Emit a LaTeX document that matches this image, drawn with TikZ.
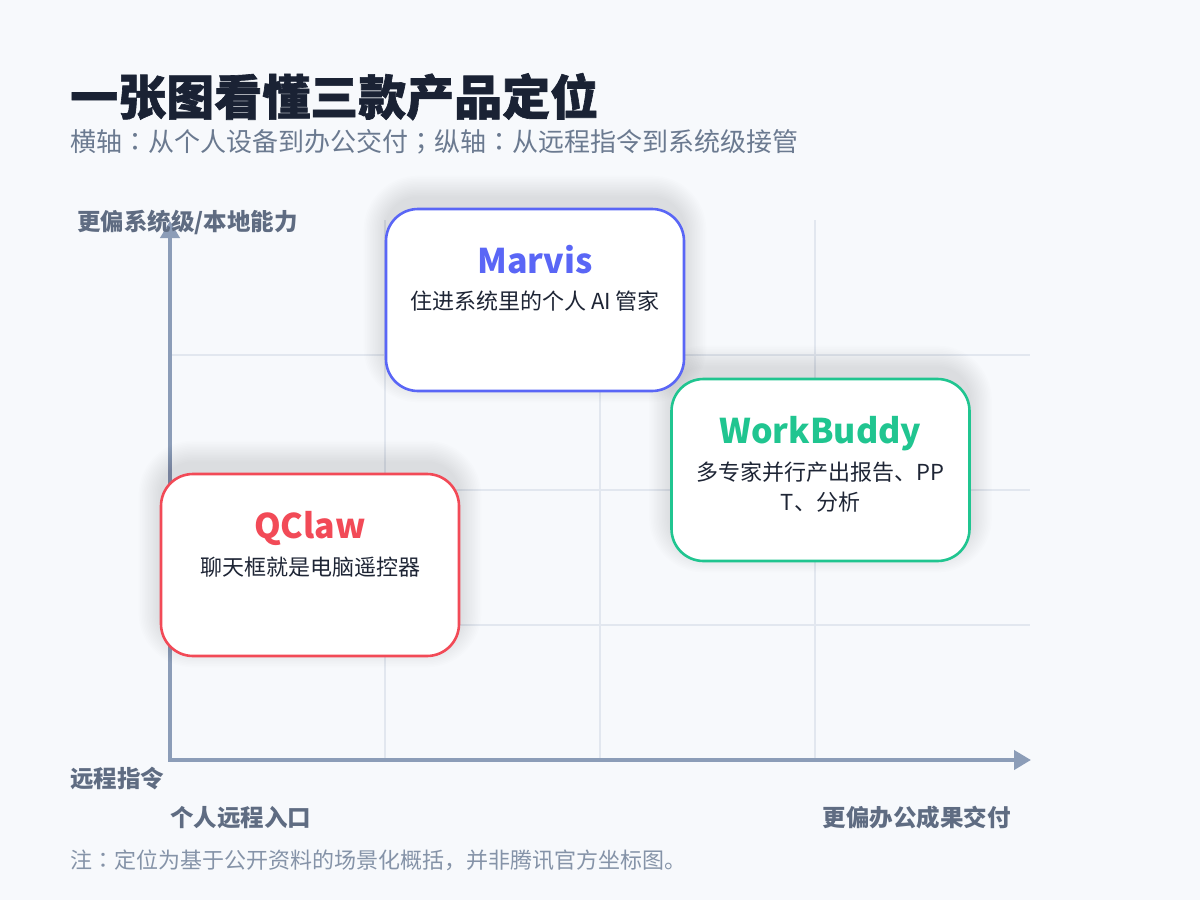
\documentclass[tikz,border=0pt]{standalone}
\usepackage{fontspec}
\setmainfont{Noto Sans CJK SC}
\newfontfamily\heavyfont[BoldFeatures={FakeBold=1.3}]{Noto Sans CJK SC}
\newfontfamily\jpfont{Noto Sans CJK JP}
\newcommand{\cpunct}[1]{{\jpfont #1}}
\usetikzlibrary{arrows.meta,calc}
\definecolor{bg}{HTML}{F7F9FC}
\definecolor{gridc}{HTML}{E2E7EF}
\definecolor{axisc}{HTML}{8C9DB8}
\definecolor{titlec}{HTML}{1A2234}
\definecolor{subc}{HTML}{6B7A90}
\definecolor{labc}{HTML}{5F6C82}
\definecolor{notec}{HTML}{8593A8}
\definecolor{marvisc}{HTML}{5A66F6}
\definecolor{workc}{HTML}{20C590}
\definecolor{qclawc}{HTML}{F24A57}
\definecolor{darktext}{HTML}{1E2535}
\tikzset{
  card/.style={draw=#1, fill=white, rounded corners=32pt, line width=2.6pt,
    minimum width=298pt, minimum height=182pt, inner sep=0pt},
  cardtitle/.style={anchor=base, inner sep=0pt, text=#1, font=\fontsize{34}{40}\selectfont\bfseries},
  cardsub/.style={anchor=base, inner sep=0pt, text=darktext, font=\fontsize{22}{26}\selectfont},
  axislabel/.style={inner sep=0pt, text=labc, font=\fontsize{23.5}{28}\selectfont\bfseries},
  axisline/.style={draw=axisc, line width=4pt, -{Triangle[length=17pt,width=19pt]}},
  gridline/.style={draw=gridc, line width=1.2pt},
}
\newcommand{\cardshadow}[2]{%
  \foreach \k in {1,...,14}{%
    \fill[black, opacity=0.008, rounded corners={32pt+\k*1.6pt}]
      ($(#1,#2)+(-149pt-\k*1.6pt,-91pt-\k*1.6pt+11pt)$) rectangle ($(#1,#2)+(149pt+\k*1.6pt,91pt+\k*1.6pt+11pt)$);
  }%
}
\begin{document}
\begin{tikzpicture}[x=1pt,y=-1pt]
\useasboundingbox[fill=bg] (0,0) rectangle (1200,900);
% title
\node[anchor=base west, inner sep=0pt, text=titlec, font=\fontsize{48}{56}\selectfont\heavyfont\bfseries] (title) at (70,115) {一张图看懂三款产品定位};
\node[anchor=base west, inner sep=0pt, text=subc, font=\fontsize{26}{30}\selectfont] (subtitle) at (70,151) {横轴\cpunct{：}从个人设备到办公交付\cpunct{；}纵轴\cpunct{：}从远程指令到系统级接管};
% grid
\foreach \gx in {385,600,815}{\draw[gridline] (\gx,220) -- (\gx,760);}
\foreach \gy in {355,490,625}{\draw[gridline] (170,\gy) -- (1030,\gy);}
% axes
\coordinate (O) at (170,760);
\coordinate (Ytop) at (170,221);
\coordinate (Xend) at (1031,760);
\draw[axisline] (O) -- (Ytop);
\draw[axisline] ([xshift=-2pt]O) -- (Xend);
% axis labels
\node[axislabel, anchor=base west] (ylab) at (77,230) {更偏系统级/本地能力};
\node[axislabel, anchor=base west] (olab) at (70,787) {远程指令};
\node[axislabel, anchor=base west] (xlab1) at (170,826) {个人远程入口};
\node[axislabel, anchor=base east] (xlab2) at (1011,826) {更偏办公成果交付};
% shadows
\cardshadow{535}{300}
\cardshadow{820.5}{470}
\cardshadow{310}{565}
% cards
\node[card=marvisc] (marvis) at (535,300) {};
\node[cardtitle=marvisc] (marvisT) at ([yshift=-66pt]marvis.north) {Marvis};
\node[cardsub] (marvisS) at ([yshift=-102pt]marvis.north) {住进系统里的个人 AI 管家};

\node[card=workc] (work) at (820.5,470) {};
\node[cardtitle=workc] (workT) at ([yshift=-66pt]work.north) {WorkBuddy};
\node[cardsub] (workS1) at ([yshift=-103pt]work.north) {多专家并行产出报告、PP};
\node[cardsub] (workS2) at ([yshift=-133pt]work.north) {T、分析};

\node[card=qclawc] (qclaw) at (310,565) {};
\node[cardtitle=qclawc] (qclawT) at ([yshift=-66pt]qclaw.north) {QClaw};
\node[cardsub] (qclawS) at ([yshift=-103pt]qclaw.north) {聊天框就是电脑遥控器};
% note
\node[anchor=base west, inner sep=0pt, text=notec, font=\fontsize{22}{26}\selectfont] (note) at (70,868) {注\cpunct{：}定位为基于公开资料的场景化概括，并非腾讯官方坐标图。};
\end{tikzpicture}
\end{document}
